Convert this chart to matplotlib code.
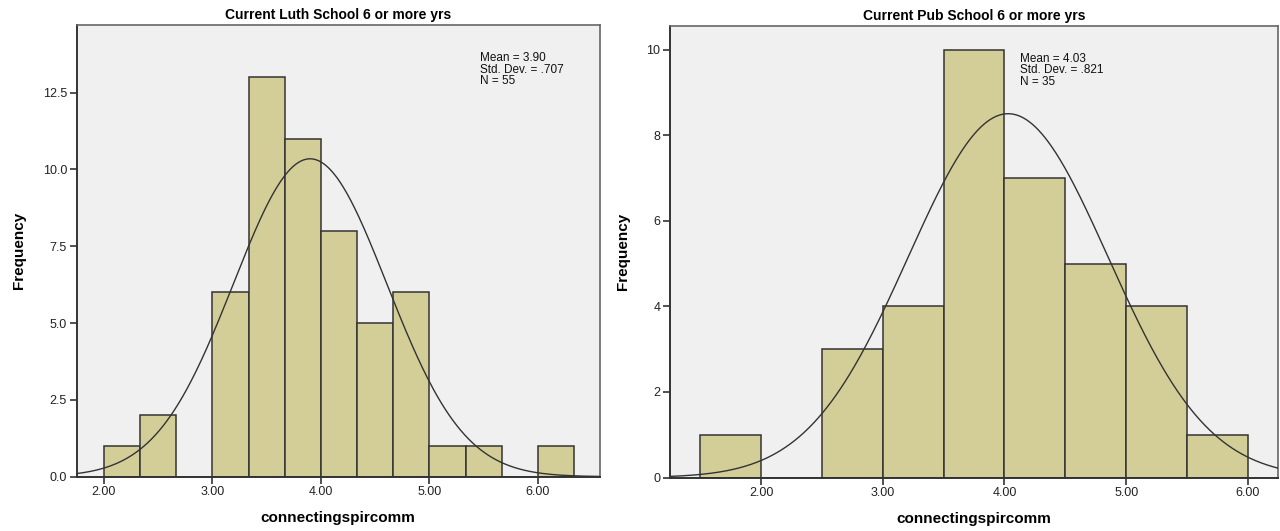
import numpy as np
import matplotlib
matplotlib.use("Agg")
import matplotlib.pyplot as plt
from matplotlib.ticker import FormatStrFormatter

plt.rcParams['font.family'] = ['Liberation Sans', 'DejaVu Sans']

# left panel: Current Luth School, bins of width 1/3 starting at 2.0
luth_edges = [2.0, 2.3333, 2.6667, 3.0, 3.3333, 3.6667, 4.0, 4.3333, 4.6667, 5.0, 5.3333, 5.6667, 6.0, 6.3333]
luth_counts = [1, 2, 0, 6, 13, 11, 8, 5, 6, 1, 1, 0, 1]
luth_mean, luth_sd, luth_n = 3.90, 0.707, 55

# right panel: Current Pub School, bins of width 0.5 starting at 1.5
pub_edges = [1.5, 2.0, 2.5, 3.0, 3.5, 4.0, 4.5, 5.0, 5.5, 6.0]
pub_counts = [1, 0, 3, 4, 10, 7, 5, 4, 1]
pub_mean, pub_sd, pub_n = 4.03, 0.821, 35

bar_color = '#D3CE98'
edge_color = '#333333'
bg_color = '#F0F0F0'

fig = plt.figure(figsize=(12.8, 5.31), dpi=100)
ax1 = fig.add_axes([0.0599, 0.1023, 0.4088, 0.8507])
ax2 = fig.add_axes([0.5234, 0.1006, 0.4752, 0.851])


def draw_hist(ax, edges, counts, mean, sd, n, xlim, ylim, yticks, yfmt, title, stat_x):
    edges = np.array(edges)
    widths = np.diff(edges)
    ax.set_facecolor(bg_color)
    ax.bar(edges[:-1], counts, width=widths, align='edge', color=bar_color,
           edgecolor=edge_color, linewidth=1.1, zorder=2)
    bw = widths.mean()
    xs = np.linspace(xlim[0], xlim[1], 400)
    ys = n * bw / (sd * np.sqrt(2 * np.pi)) * np.exp(-0.5 * ((xs - mean) / sd) ** 2)
    ax.plot(xs, ys, color='#333333', linewidth=1.0, zorder=3)
    ax.set_xlim(*xlim)
    ax.set_ylim(*ylim)
    ax.set_xticks([2, 3, 4, 5, 6])
    ax.xaxis.set_major_formatter(FormatStrFormatter('%.2f'))
    ax.set_yticks(yticks)
    ax.yaxis.set_major_formatter(FormatStrFormatter(yfmt))
    ax.tick_params(direction='out', length=5, width=1.2, colors='#333333',
                   labelsize=9, labelcolor='#222222', pad=2)
    for side in ['top', 'right']:
        ax.spines[side].set_color('#666666')
        ax.spines[side].set_linewidth(1.2)
    for side in ['left', 'bottom']:
        ax.spines[side].set_color('#333333')
        ax.spines[side].set_linewidth(1.4)
    ax.set_title(title, fontsize=10, fontweight='bold', pad=4)
    ax.set_xlabel('connectingspircomm', fontsize=11, fontweight='bold', labelpad=9)
    ax.set_ylabel('Frequency', fontsize=11, fontweight='bold', labelpad=12)
    ax.text(stat_x, 0.94, 'Mean = %.2f\nStd. Dev. = %s\nN = %d' % (mean, ('%.3f' % sd)[1:], n),
            transform=ax.transAxes, fontsize=8.5, va='top', ha='left',
            linespacing=0.95, color='#111111')


draw_hist(ax1, luth_edges, luth_counts, luth_mean, luth_sd, luth_n,
          (1.75, 6.57), (0, 14.7), [0, 2.5, 5, 7.5, 10, 12.5], '%.1f',
          'Current Luth School 6 or more yrs', 0.77)
draw_hist(ax2, pub_edges, pub_counts, pub_mean, pub_sd, pub_n,
          (1.25, 6.25), (0, 10.56), [0, 2, 4, 6, 8, 10], '%d',
          'Current Pub School 6 or more yrs', 0.575)

fig.savefig('out.png', dpi=100, facecolor='white')
